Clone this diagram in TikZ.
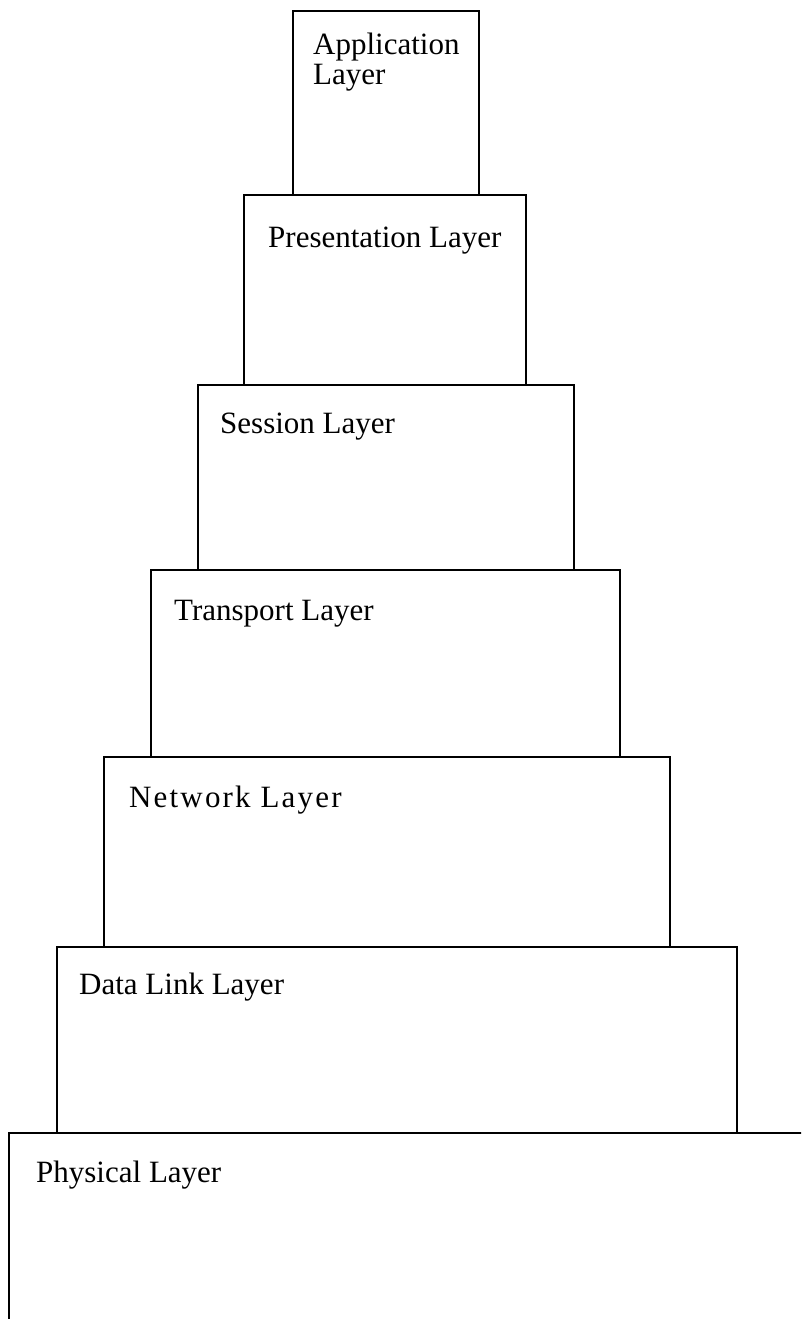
\documentclass[tikz,border=0pt]{standalone}
\usepackage{fontspec}
\setmainfont{Liberation Serif}
\begin{document}
\begin{tikzpicture}[x=1pt,y=-1pt,
  layerbox/.style={draw=black,line width=2.1pt,fill=none,inner sep=0pt,outer sep=0pt,anchor=north west},
  layertext/.style={font=\fontsize{31}{30}\selectfont,inner sep=0pt,anchor=base west,align=left}]
\useasboundingbox (0,0) rectangle (801,1319);
\clip (0,0) rectangle (801,1319);
\fill[white] (0,0) rectangle (801,1319);
% boxes (top-left corner, width, height)
\node[layerbox,minimum width=186pt,minimum height=184pt] (app) at (293,11) {};
\node[layerbox,minimum width=282pt,minimum height=190pt] (pres) at (244,195) {};
\node[layerbox,minimum width=376pt,minimum height=185pt] (sess) at (198,385) {};
\node[layerbox,minimum width=469pt,minimum height=187pt] (trans) at (151,570) {};
\node[layerbox,minimum width=566pt,minimum height=190pt] (net) at (104,757) {};
\node[layerbox,minimum width=680pt,minimum height=186pt] (dl) at (57,947) {};
\node[layerbox,minimum width=860pt,minimum height=260pt] (phys) at (9,1133) {};
% labels
\node[layertext] (appT) at ([xshift=20pt,yshift=-74pt]app.north west) {Application\\Layer};
\node[layertext] (presT) at ([xshift=24pt,yshift=-52pt]pres.north west) {Presentation Layer};
\node[layertext] (sessT) at ([xshift=22pt,yshift=-48pt]sess.north west) {Session Layer};
\node[layertext] (transT) at ([xshift=23pt,yshift=-50pt]trans.north west) {Transport Layer};
\node[layertext] (netT) at ([xshift=25pt,yshift=-50pt]net.north west) {\addfontfeature{LetterSpace=7}Network Layer};
\node[layertext] (dlT) at ([xshift=22pt,yshift=-47pt]dl.north west) {Data Link Layer};
\node[layertext] (physT) at ([xshift=27pt,yshift=-49pt]phys.north west) {Physical Layer};
\end{tikzpicture}
\end{document}
